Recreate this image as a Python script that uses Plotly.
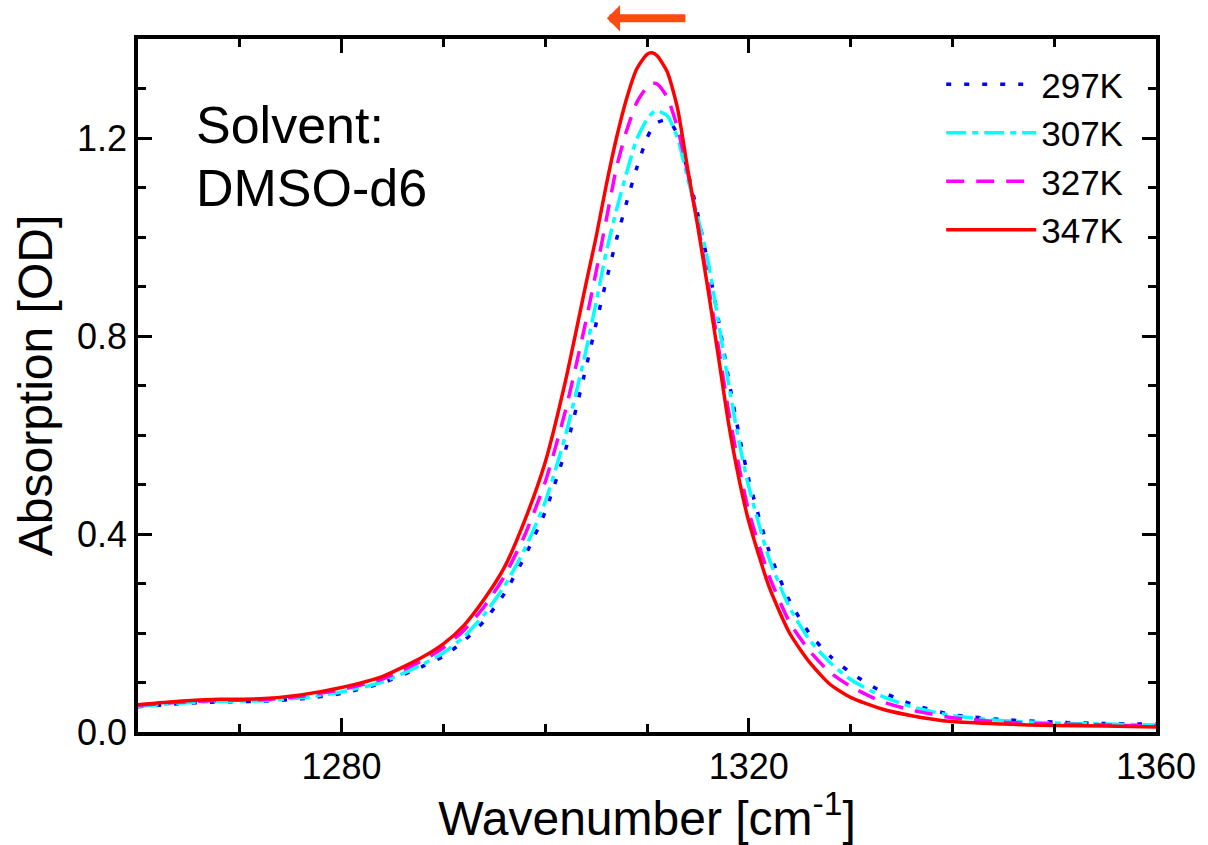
import plotly.graph_objects as go

wavenumber = [1260, 1264, 1268, 1272, 1276, 1280, 1284, 1288, 1290, 1292, 1294, 1296, 1298, 1300,
              1302, 1304, 1305, 1306, 1307, 1308, 1309, 1310, 1310.5, 1311, 1312, 1313, 1314, 1315, 1316,
              1317, 1318, 1319, 1320, 1322, 1324, 1326, 1328, 1330, 1333, 1336, 1340, 1345, 1350,
              1355, 1360]

abs_297K = [0.051, 0.057, 0.061, 0.062, 0.067, 0.078, 0.099, 0.133, 0.153, 0.184, 0.224, 0.280, 0.355, 0.445,
            0.570, 0.735, 0.825, 0.912, 0.995, 1.070, 1.140, 1.200, 1.220, 1.231, 1.237, 1.208, 1.132, 1.045, 0.945,
            0.835, 0.715, 0.605, 0.510, 0.365, 0.265, 0.198, 0.153, 0.120, 0.082, 0.056, 0.035, 0.025, 0.020,
            0.017, 0.016]

abs_307K = [0.052, 0.058, 0.062, 0.063, 0.069, 0.081, 0.101, 0.137, 0.160, 0.192, 0.237, 0.295, 0.370, 0.465,
            0.600, 0.770, 0.868, 0.970, 1.055, 1.130, 1.198, 1.238, 1.250, 1.255, 1.245, 1.200, 1.118, 1.040, 0.950,
            0.830, 0.705, 0.590, 0.495, 0.350, 0.252, 0.185, 0.140, 0.106, 0.073, 0.051, 0.033, 0.023, 0.018,
            0.016, 0.014]

abs_327K = [0.054, 0.060, 0.064, 0.065, 0.072, 0.086, 0.107, 0.145, 0.170, 0.205, 0.253, 0.315, 0.398, 0.505,
            0.650, 0.830, 0.930, 1.035, 1.140, 1.215, 1.272, 1.303, 1.311, 1.309, 1.282, 1.220, 1.130, 1.025, 0.905,
            0.780, 0.650, 0.540, 0.445, 0.315, 0.222, 0.163, 0.120, 0.092, 0.062, 0.044, 0.029, 0.020, 0.016,
            0.014, 0.012]

abs_347K = [0.055, 0.062, 0.066, 0.067, 0.075, 0.090, 0.112, 0.152, 0.178, 0.215, 0.268, 0.333, 0.428, 0.545,
            0.710, 0.905, 1.000, 1.105, 1.200, 1.280, 1.340, 1.369, 1.372, 1.366, 1.333, 1.260, 1.137, 1.020, 0.893,
            0.760, 0.625, 0.515, 0.425, 0.293, 0.200, 0.140, 0.096, 0.070, 0.047, 0.033, 0.021, 0.016, 0.013,
            0.012, 0.010]

series_names = ["297K", "307K", "327K", "347K"]
series_values = [abs_297K, abs_307K, abs_327K, abs_347K]
series_colors = ["#0000FF", "#00FFFF", "#FF00FF", "#FF0000"]
series_dashes = ["5px,13px", "20px,6px,6px,6px", "18px,12px", "solid"]

x_ticks = [1280, 1320, 1360]
y_ticks = [0.0, 0.4, 0.8, 1.2]

FONT = "Liberation Sans, Arial, sans-serif"

fig = go.Figure()
for name, vals, col, dash in zip(series_names, series_values, series_colors, series_dashes):
    fig.add_trace(go.Scatter(
        x=wavenumber, y=vals, mode="lines", name=name,
        line=dict(color=col, width=3.5, dash=dash, shape="spline", smoothing=0.6),
    ))

axis_common = dict(
    showline=True, linecolor="black", linewidth=3.5, mirror="ticks",
    ticks="inside", ticklen=14, tickwidth=3, tickcolor="black",
    showgrid=False, zeroline=False,
    tickfont=dict(family=FONT, size=36, color="black"),
)

fig.update_xaxes(
    range=[1260, 1360], tickvals=x_ticks, ticktext=[str(v) for v in x_ticks],
    minor=dict(dtick=10, tick0=1260, ticks="inside", ticklen=8, tickwidth=3, tickcolor="black"),
    title=dict(text="Wavenumber [cm<sup>-1</sup>]", font=dict(family=FONT, size=48, color="black"), standoff=12),
    **axis_common,
)
fig.update_yaxes(
    range=[0, 1.4], tickvals=y_ticks, ticktext=[f"{v:.1f}" for v in y_ticks],
    minor=dict(dtick=0.1, tick0=0, ticks="inside", ticklen=8, tickwidth=3, tickcolor="black"),
    title=dict(text="Absorption [OD]", font=dict(family=FONT, size=48, color="black"), standoff=10),
    **axis_common,
)

fig.add_annotation(
    text="Solvent:", xref="paper", yref="paper", x=0.0555, y=0.8766,
    xanchor="left", yanchor="middle", align="left", showarrow=False,
    font=dict(family=FONT, size=52, color="black"),
)
fig.add_annotation(
    text="DMSO-d6", xref="paper", yref="paper", x=0.0555, y=0.7843,
    xanchor="left", yanchor="middle", align="left", showarrow=False,
    font=dict(family=FONT, size=52, color="black"),
)

fig.add_annotation(
    text="", xref="paper", yref="paper", x=0.4606, y=1.030,
    ax=80, ay=0, showarrow=True, arrowhead=1, arrowsize=0.55, arrowwidth=8,
    arrowcolor="#FF4A12",
)

fig.update_layout(
    width=1208, height=845,
    margin=dict(l=138, r=43, t=39, b=113),
    paper_bgcolor="white", plot_bgcolor="white",
    showlegend=True,
    legend=dict(
        x=0.789, y=0.977, xanchor="left", yanchor="top",
        bgcolor="rgba(0,0,0,0)", borderwidth=0,
        font=dict(family=FONT, size=35, color="black"),
        itemwidth=90, tracegroupgap=0,
    ),
)

fig.write_html("out.html")
